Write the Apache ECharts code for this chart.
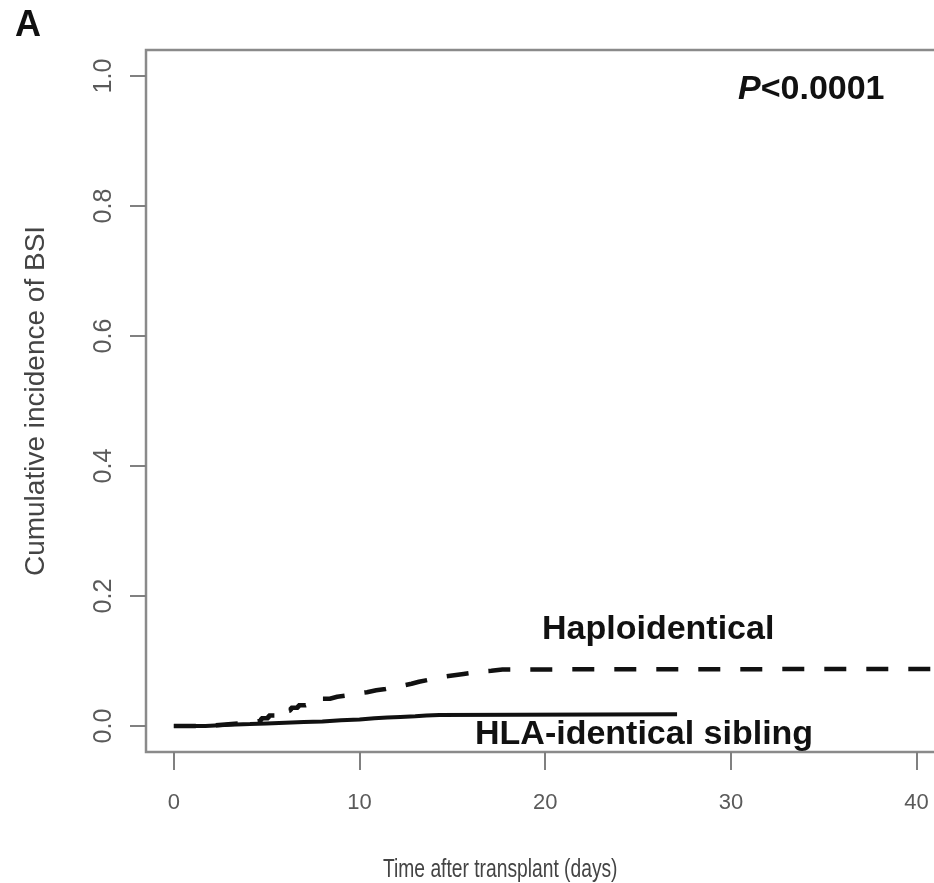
<!DOCTYPE html>
<html>
<head>
<meta charset="utf-8">
<title>Cumulative incidence of BSI</title>
<script src="https://cdn.jsdelivr.net/npm/echarts@6/dist/echarts.min.js"></script>
<style>
  html, body { margin: 0; padding: 0; background: #ffffff; }
  #chart { width: 934px; height: 883px; }
</style>
</head>
<body>
<div id="chart"></div>
<script>
// Cumulative incidence of bloodstream infection (step curves)
const haploDays = [0, 1.7, 2.6, 3.5, 4.2, 4.7, 5.1, 5.5, 5.9, 6.3, 6.7, 7.1, 7.5, 8.0, 8.4, 8.8, 9.3, 9.9, 10.4, 10.9, 11.4, 11.9, 12.3, 12.8, 13.2, 13.7, 14.1, 14.6, 15.1, 15.6, 16.1, 16.6, 17.1, 17.7, 46];
const haploCI   = [0, 0.002, 0.004, 0.006, 0.008, 0.012, 0.016, 0.020, 0.024, 0.028, 0.032, 0.035, 0.038, 0.042, 0.045, 0.047, 0.050, 0.052, 0.055, 0.057, 0.060, 0.062, 0.065, 0.068, 0.071, 0.073, 0.076, 0.078, 0.080, 0.082, 0.084, 0.085, 0.087, 0.088, 0.088];

const sibDays = [0, 1.7, 3.0, 4.1, 5.0, 6.0, 7.0, 8.0, 9.0, 10.0, 10.8, 11.5, 12.2, 13.0, 13.6, 14.3, 27.1];
const sibCI   = [0, 0.002, 0.003, 0.004, 0.005, 0.006, 0.007, 0.009, 0.010, 0.012, 0.013, 0.014, 0.015, 0.016, 0.017, 0.018, 0.018];

const xTicks = [0, 10, 20, 30, 40];
const yTicks = [0, 0.2, 0.4, 0.6, 0.8, 1.0];

const xTitle = 'Time after transplant (days)';
const yTitle = 'Cumulative incidence of BSI';
const panelLabel = 'A';
const pText = '<0.0001';
const haploName = 'Haploidentical';
const sibName = 'HLA-identical sibling';

const pairs = (xs, ys) => xs.map((x, i) => [x, ys[i]]);

const sans = "'Liberation Sans', Arial, Helvetica, sans-serif";

const chart = echarts.init(document.getElementById('chart'), null, { renderer: 'canvas' });

chart.setOption({
  animation: false,
  backgroundColor: '#ffffff',
  grid: {
    left: 146, top: 50, width: 882, height: 702,
    show: true, borderColor: '#8a8a8a', borderWidth: 2.5,
    backgroundColor: 'transparent',
    containLabel: false, outerBoundsMode: 'none'
  },
  xAxis: {
    type: 'value', min: -1.5, max: 46,
    splitLine: { show: false },
    axisLine: { show: false, onZero: false },
    axisTick: { show: true, customValues: xTicks, length: 18, inside: false,
                lineStyle: { color: '#808080', width: 2 } },
    axisLabel: { customValues: xTicks, margin: 40, color: '#5a5a5a',
                 fontFamily: sans, fontSize: 22 }
  },
  yAxis: {
    type: 'value', min: -0.04, max: 1.04,
    splitLine: { show: false },
    axisLine: { show: false, onZero: false },
    axisTick: { show: true, customValues: yTicks, length: 16,
                lineStyle: { color: '#808080', width: 2 } },
    axisLabel: { customValues: yTicks, rotate: 90, margin: 29, color: '#5a5a5a',
                 fontFamily: sans, fontSize: 25,
                 formatter: v => v.toFixed(1) },
    name: yTitle, nameLocation: 'middle', nameRotate: 90, nameGap: 96,
    nameTextStyle: { color: '#444', fontFamily: sans, fontSize: 28 }
  },
  series: [
    {
      name: haploName, type: 'line', step: 'end', symbol: 'none',
      data: pairs(haploDays, haploCI),
      lineStyle: { color: '#111', width: 4.5, type: [22, 20], cap: 'butt' },
      silent: true, clip: true
    },
    {
      name: sibName, type: 'line', step: 'end', symbol: 'none',
      data: pairs(sibDays, sibCI),
      lineStyle: { color: '#111', width: 4, type: 'solid' },
      silent: true, clip: true
    }
  ],
  graphic: [
    { type: 'text', left: 15, top: 8,
      style: { text: panelLabel, font: "bold 36px " + sans, fill: '#111' } },
    { type: 'text', x: 738, y: 90,
      style: { text: '{i|P}{n|' + pText + '}', textVerticalAlign: 'middle',
               rich: { i: { font: "italic bold 34px " + sans, fill: '#111' },
                       n: { font: "bold 34px " + sans, fill: '#111' } } } },
    { type: 'text', x: 542, y: 630,
      style: { text: haploName, font: "bold 34px " + sans, fill: '#111', textVerticalAlign: 'middle' } },
    { type: 'text', x: 475, y: 735,
      style: { text: sibName, font: "bold 34px " + sans, fill: '#111', textVerticalAlign: 'middle' } },
    { type: 'text', x: 383, y: 870, scaleX: 0.74,
      style: { text: xTitle, font: "26px " + sans, fill: '#444', textVerticalAlign: 'middle' } }
  ]
});
</script>
</body>
</html>
